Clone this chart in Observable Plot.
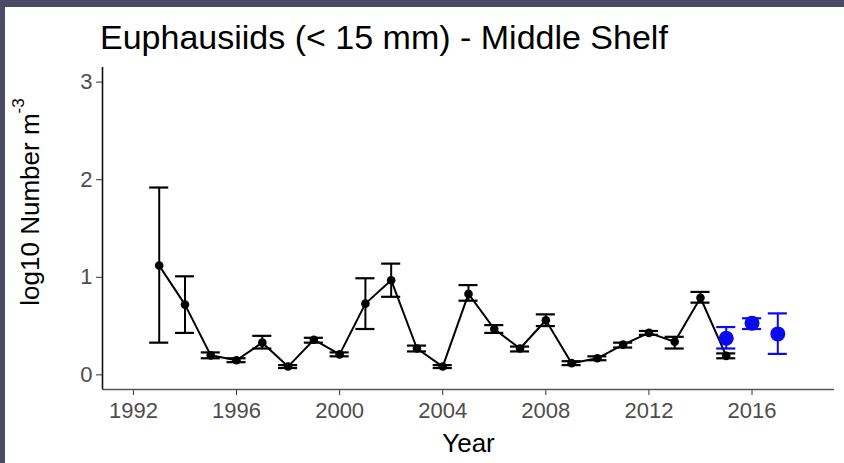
<!DOCTYPE html>
<html>
<head>
<meta charset="utf-8">
<script src="https://cdn.jsdelivr.net/npm/d3@7"></script>
<script src="https://cdn.jsdelivr.net/npm/@observablehq/plot@0.6"></script>
<style>
  html, body { margin: 0; padding: 0; }
  body { width: 844px; height: 463px; background: #4b4a67; position: relative; overflow: hidden; }
  #panel { position: absolute; left: 5px; top: 7px; width: 839px; height: 456px; background: #fff; }
  #title { position: absolute; left: 95px; top: 13px; font-family: "Liberation Sans", Arial, sans-serif; font-size: 34px; color: #000; white-space: nowrap; line-height: 1; }
  #chart { position: absolute; left: 0; top: 45px; }
  svg { overflow: visible; }
</style>
</head>
<body>
<div id="panel">
  <div id="title">Euphausiids (&lt; 15 mm) - Middle Shelf</div>
  <div id="chart"></div>
</div>
<script>
// Historical survey (black)
const years = [1993, 1994, 1995, 1996, 1997, 1998, 1999, 2000, 2001, 2002, 2003, 2004, 2005, 2006, 2007, 2008, 2009, 2010, 2011, 2012, 2013, 2014, 2015];
const means = [1.12, 0.72, 0.20, 0.15, 0.33, 0.085, 0.36, 0.21, 0.73, 0.97, 0.27, 0.085, 0.83, 0.47, 0.27, 0.56, 0.12, 0.17, 0.31, 0.43, 0.34, 0.79, 0.195];
const lows  = [0.33, 0.43, 0.17, 0.13, 0.27, 0.07, 0.33, 0.19, 0.47, 0.80, 0.24, 0.07, 0.76, 0.43, 0.24, 0.50, 0.10, 0.15, 0.28, 0.41, 0.27, 0.74, 0.17];
const highs = [1.92, 1.01, 0.23, 0.17, 0.40, 0.10, 0.38, 0.23, 0.99, 1.14, 0.30, 0.10, 0.92, 0.51, 0.29, 0.62, 0.14, 0.19, 0.33, 0.45, 0.39, 0.85, 0.22];

// Recent survey (blue)
const blueYears = [2015, 2016, 2017];
const blueMeans = [0.375, 0.53, 0.42];
const blueLows  = [0.27, 0.47, 0.215];
const blueHighs = [0.49, 0.58, 0.63];

const xTicks = [1992, 1996, 2000, 2004, 2008, 2012, 2016];
const yTicks = [0, 1, 2, 3];

const xLabel = "Year";
const yLabel = "log10 Number m";
const yLabelSup = "-3";

const black = years.map((y, i) => ({year: y, mean: means[i], lo: lows[i], hi: highs[i]}));
const blue = blueYears.map((y, i) => ({year: y, mean: blueMeans[i], lo: blueLows[i], hi: blueHighs[i]}));

const xDom = [1990.8, 2019.2];
const yDom = [-0.15, 3.15];
const capHalf = 0.37;
const blueColor = "#0a0af0";

const chart = Plot.plot({
  width: 839,
  height: 411,
  marginLeft: 97,
  marginRight: 10,
  marginTop: 15,
  marginBottom: 74,
  style: {fontFamily: "'Liberation Sans', Arial, sans-serif", background: "transparent"},
  x: {domain: xDom},
  y: {domain: yDom},
  marks: [
    Plot.axisX({ticks: xTicks, tickFormat: d => String(d), tickSize: 6, tickPadding: 7, fontSize: 22, stroke: "#333", fill: "#4d4d4d", label: null}),
    Plot.axisY({ticks: yTicks, tickFormat: d => String(d), tickSize: 6, tickPadding: 4, fontSize: 22, stroke: "#333", fill: "#4d4d4d", label: null}),
    Plot.ruleX([xDom[0]], {stroke: "#111", strokeWidth: 1.6}),
    Plot.ruleY([yDom[0]], {stroke: "#555", strokeWidth: 1.6}),
    // black error bars
    Plot.ruleX(black, {x: "year", y1: "lo", y2: "hi", stroke: "#000", strokeWidth: 2}),
    Plot.ruleY(black, {y: "lo", x1: d => d.year - capHalf, x2: d => d.year + capHalf, stroke: "#000", strokeWidth: 2.2}),
    Plot.ruleY(black, {y: "hi", x1: d => d.year - capHalf, x2: d => d.year + capHalf, stroke: "#000", strokeWidth: 2.2}),
    Plot.line(black, {x: "year", y: "mean", stroke: "#000", strokeWidth: 2}),
    Plot.dot(black, {x: "year", y: "mean", r: 4.3, fill: "#000", stroke: "none"}),
    // blue error bars
    Plot.ruleX(blue, {x: "year", y1: "lo", y2: "hi", stroke: blueColor, strokeWidth: 2}),
    Plot.ruleY(blue, {y: "lo", x1: d => d.year - capHalf, x2: d => d.year + capHalf, stroke: blueColor, strokeWidth: 2.2}),
    Plot.ruleY(blue, {y: "hi", x1: d => d.year - capHalf, x2: d => d.year + capHalf, stroke: blueColor, strokeWidth: 2.2}),
    Plot.dot(blue, {x: "year", y: "mean", r: 7.5, fill: blueColor, stroke: "none"}),
    // x axis title
    Plot.text([xLabel], {frameAnchor: "bottom", dy: 62, fontSize: 26, fill: "#000"})
  ]
});

document.getElementById("chart").appendChild(chart);

// y axis title with superscript
const svg = d3.select(chart);
const t = svg.append("text")
  .attr("transform", "translate(27, 150) rotate(-90)")
  .attr("text-anchor", "middle")
  .attr("dominant-baseline", "middle")
  .attr("font-family", "'Liberation Sans', Arial, sans-serif")
  .attr("font-size", 26)
  .attr("fill", "#000");
t.append("tspan").text(yLabel);
t.append("tspan").attr("font-size", 17).attr("dy", -12).text(yLabelSup);
</script>
</body>
</html>
